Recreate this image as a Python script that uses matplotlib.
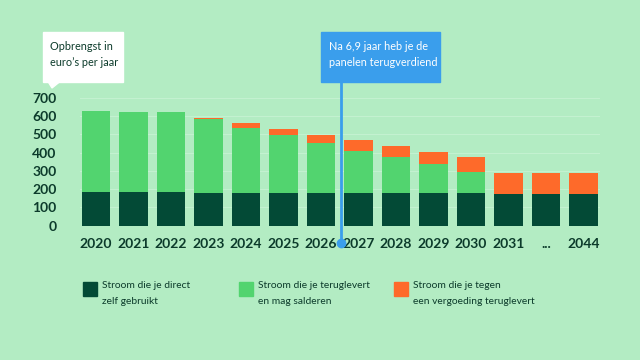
import matplotlib.pyplot as plt
import numpy as np
from matplotlib.patches import Rectangle, Polygon
from matplotlib.transforms import blended_transform_factory

# Data
years = ['2020', '2021', '2022', '2023', '2024', '2025', '2026',
         '2027', '2028', '2029', '2030', '2031', '...', '2044']
direct = [185, 185, 185, 180, 180, 180, 180, 180, 180, 180, 178, 175, 175, 175]
salderen = [440, 435, 435, 405, 355, 317, 273, 230, 196, 155, 113, 0, 0, 0]
vergoeding = [0, 0, 0, 6, 28, 33, 45, 57, 60, 70, 83, 111, 111, 111]
payback = 6.53

bg = '#b3ecc3'
dark = '#034a36'
light = '#52d46f'
orange = '#fe6a2a'
blue = '#3a9eec'
txt = '#0c3b2b'

plt.rcParams['font.family'] = ['Lato', 'DejaVu Sans']

fig = plt.figure(figsize=(6.4, 3.6), dpi=100, facecolor=bg)
W, H = 640, 360

# axes placed in pixel coords: x 80..600, value 0 at y=225.7
y0 = 225.7
ppu = 0.1829
ytop = 710
ax = fig.add_axes([80 / W, (H - y0) / H, 520 / W, ytop * ppu / H])
ax.set_facecolor(bg)

x = np.arange(len(years))
direct = np.array(direct)
salderen = np.array(salderen)
vergoeding = np.array(vergoeding)
ax.bar(x, direct, width=0.75, color=dark, zorder=3)
ax.bar(x, salderen, width=0.75, bottom=direct, color=light, zorder=3)
ax.bar(x, vergoeding, width=0.75, bottom=direct + salderen, color=orange, zorder=3)

ax.set_xlim((80 - 96) / 37.5, (600 - 96) / 37.5)
ax.set_ylim(0, ytop)
ax.set_yticks(range(0, 701, 100))
ax.grid(axis='y', color='#c3f1d0', linewidth=0.8, zorder=0)
for s in ax.spines.values():
    s.set_visible(False)
ax.tick_params(length=0, labelsize=10, labelcolor=txt)
ax.tick_params(axis='y', pad=17)
ax.tick_params(axis='x', pad=9)
ax.set_xticks(x)
ax.set_xticklabels(years, fontweight='bold')
for lbl in ax.get_yticklabels():
    lbl.set_fontweight('bold')

# white label box with pointer
fig.patches.append(Rectangle((42.7 / W, 1 - 81.7 / H), 80 / W, 49.4 / H,
                             transform=fig.transFigure, color='white', zorder=1))
fig.patches.append(Polygon([(48 / W, 1 - 81.5 / H), (60 / W, 1 - 81.5 / H), (52 / W, 1 - 88 / H)],
                           closed=True, transform=fig.transFigure, color='white', zorder=1))
fig.text(50 / W, 1 - 46 / H, 'Opbrengst in', fontsize=7.8, color=txt, va='center', ha='left')
fig.text(50 / W, 1 - 63 / H, 'euro\u2019s per jaar', fontsize=7.8, color=txt, va='center', ha='left')

# blue payback line and box
tr = blended_transform_factory(ax.transData, fig.transFigure)
ax.plot([payback, payback], [1 - 80 / H, 1 - 243 / H], color=blue, lw=2,
        transform=tr, clip_on=False, zorder=5)
ax.plot([payback], [1 - 243 / H], 'o', color=blue, ms=6, transform=tr, clip_on=False, zorder=5)
fig.patches.append(Rectangle((320.7 / W, 1 - 81.7 / H), 119.3 / W, 50 / H,
                             transform=fig.transFigure, color=blue, zorder=1))
fig.text(329 / W, 1 - 46 / H, 'Na 6,9 jaar heb je de', fontsize=7.8, color='white', va='center')
fig.text(329 / W, 1 - 63 / H, 'panelen terugverdiend', fontsize=7.8, color='white', va='center')

# legend
legend_items = [
    (83, dark, 'Stroom die je direct', 'zelf gebruikt'),
    (239, light, 'Stroom die je teruglevert', 'en mag salderen'),
    (394, orange, 'Stroom die je tegen', 'een vergoeding teruglevert'),
]
for lx, col, l1, l2 in legend_items:
    fig.patches.append(Rectangle((lx / W, 1 - 296 / H), 14 / W, 14 / H,
                                 transform=fig.transFigure, color=col))
    fig.text((lx + 19) / W, 1 - 286 / H, l1, fontsize=7.4, color=txt, va='center')
    fig.text((lx + 19) / W, 1 - 302 / H, l2, fontsize=7.4, color=txt, va='center')

plt.savefig('out.png', dpi=100, facecolor=bg)
